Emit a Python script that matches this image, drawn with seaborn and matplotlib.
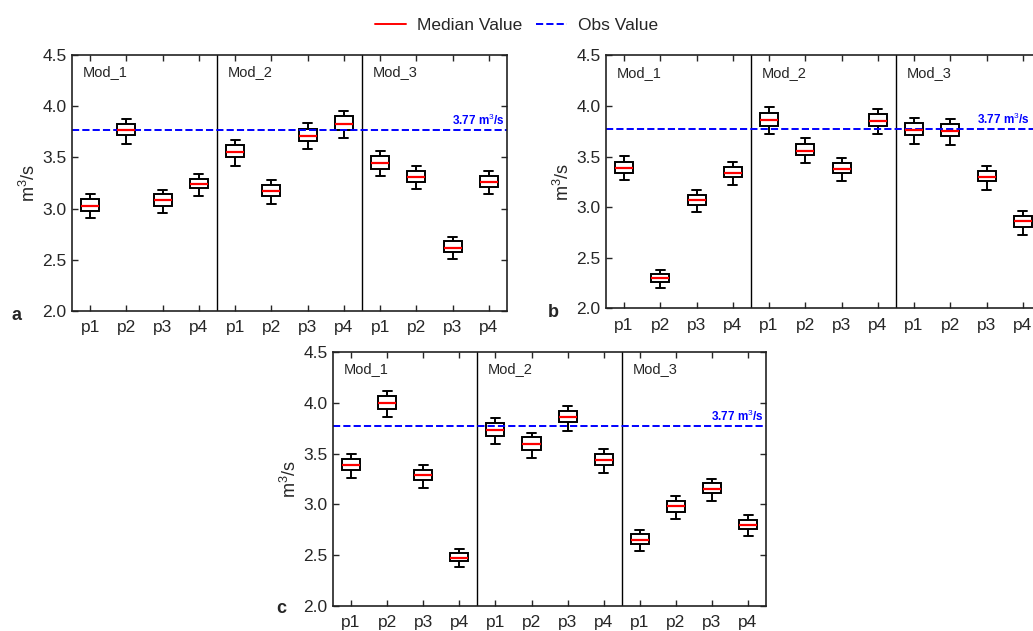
import numpy as np
import pandas as pd
import matplotlib
matplotlib.use("Agg")
import matplotlib.pyplot as plt
import seaborn as sns
from matplotlib.lines import Line2D

# ---------------- data ----------------
models = ["Mod_1", "Mod_2", "Mod_3"]
params = ["p1", "p2", "p3", "p4"]
obs_value = 3.77
obs_label = "3.77 m$^3$/s"
yticks = [2.0, 2.5, 3.0, 3.5, 4.0, 4.5]

# five-number summaries (whisker low, Q1, median, Q3, whisker high)
# order: Mod_1 p1..p4, Mod_2 p1..p4, Mod_3 p1..p4
panel_a = [
    (2.91, 2.98, 3.03, 3.09, 3.14),
    (3.63, 3.72, 3.77, 3.83, 3.88),
    (2.96, 3.03, 3.08, 3.14, 3.18),
    (3.12, 3.20, 3.24, 3.29, 3.34),
    (3.42, 3.50, 3.55, 3.62, 3.67),
    (3.05, 3.12, 3.17, 3.23, 3.28),
    (3.58, 3.66, 3.71, 3.78, 3.84),
    (3.69, 3.77, 3.83, 3.90, 3.95),
    (3.32, 3.39, 3.45, 3.51, 3.56),
    (3.19, 3.26, 3.31, 3.37, 3.42),
    (2.51, 2.58, 2.62, 2.68, 2.72),
    (3.14, 3.21, 3.26, 3.32, 3.37),
]
panel_b = [
    (3.27, 3.34, 3.39, 3.45, 3.51),
    (2.20, 2.26, 2.30, 2.34, 2.38),
    (2.95, 3.02, 3.07, 3.12, 3.17),
    (3.22, 3.30, 3.34, 3.40, 3.45),
    (3.72, 3.80, 3.86, 3.93, 3.99),
    (3.44, 3.52, 3.56, 3.63, 3.68),
    (3.26, 3.34, 3.38, 3.44, 3.49),
    (3.72, 3.80, 3.85, 3.92, 3.97),
    (3.63, 3.71, 3.76, 3.83, 3.88),
    (3.62, 3.70, 3.75, 3.82, 3.87),
    (3.17, 3.26, 3.30, 3.36, 3.41),
    (2.73, 2.81, 2.86, 2.91, 2.96),
]
panel_c = [
    (3.26, 3.34, 3.39, 3.45, 3.50),
    (3.86, 3.94, 4.00, 4.07, 4.12),
    (3.16, 3.24, 3.29, 3.34, 3.39),
    (2.38, 2.44, 2.47, 2.52, 2.56),
    (3.59, 3.67, 3.73, 3.80, 3.85),
    (3.46, 3.54, 3.59, 3.66, 3.70),
    (3.72, 3.81, 3.86, 3.92, 3.97),
    (3.31, 3.39, 3.44, 3.50, 3.55),
    (2.54, 2.61, 2.65, 2.71, 2.75),
    (2.86, 2.93, 2.98, 3.03, 3.08),
    (3.03, 3.11, 3.15, 3.21, 3.25),
    (2.69, 2.76, 2.80, 2.85, 2.90),
]
panel_letters = ["a", "b", "c"]

# ---------------- style ----------------
sns.set_style("ticks")
plt.rcParams["font.family"] = ["Liberation Sans", "DejaVu Sans"]
plt.rcParams["mathtext.fontset"] = "custom"
plt.rcParams["mathtext.rm"] = "Liberation Sans"
plt.rcParams["mathtext.bf"] = "Liberation Sans:bold"

fig = plt.figure(figsize=(10.33, 6.31), dpi=100)

# axes rectangles [left, bottom, width, height] (figure fraction)
rects = [
    [0.0697, 0.5071, 0.4211, 0.4057],
    [0.5866, 0.5111, 0.4211, 0.4010],
    [0.3224, 0.0396, 0.4192, 0.4025],
]
letter_pos = [(0.0116, 0.4929), (0.5305, 0.4976), (0.2672, 0.0285)]
obs_label_x = [11.45, 11.2, 11.45]

keys = [f"{m}|{p}" for m in models for p in params]


def make_frame(summary):
    rows = []
    for k, five in zip(keys, summary):
        for v in five:
            rows.append({"key": k, "value": v})
    return pd.DataFrame(rows)


for summary, rect, letter, lpos, ox in zip([panel_a, panel_b, panel_c], rects,
                                           panel_letters, letter_pos,
                                           obs_label_x):
    ax = fig.add_axes(rect)
    df = make_frame(summary)
    sns.boxplot(data=df, x="key", y="value", order=keys, width=0.5,
                color="white", linecolor="black", linewidth=1.4,
                whis=(0, 100), showfliers=False,
                medianprops=dict(color="red", linewidth=1.6), ax=ax)
    ax.set_xlim(-0.5, 11.5)
    ax.set_ylim(2.0, 4.5)
    ax.set_yticks(yticks)
    ax.set_yticklabels([f"{t:.1f}" for t in yticks])
    ax.set_xticks(range(len(keys)))
    ax.set_xticklabels(params * len(models))
    ax.set_xlabel("")
    ax.set_ylabel("m$^3$/s", fontsize=13, labelpad=2)
    ax.tick_params(direction="in", top=True, right=True, length=4,
                   width=1, labelsize=12.5, pad=4)
    ax.tick_params(axis="x", pad=6.5)
    for s in ax.spines.values():
        s.set_visible(True)
        s.set_linewidth(1.2)
        s.set_color("#222222")
    # model separators
    for xs in [3.5, 7.5]:
        ax.axvline(xs, color="black", linewidth=1.0)
    # model labels
    for i, m in enumerate(models):
        ax.text(4 * i - 0.2, 4.33, m, fontsize=10.5, ha="left", va="center")
    # observed value
    ax.axhline(obs_value, color="blue", linestyle="--", linewidth=1.4)
    ax.text(ox, obs_value + 0.02, obs_label, color="blue",
            fontsize=8.5, fontweight="bold", ha="right", va="bottom")
    fig.text(lpos[0], lpos[1], letter, fontsize=13, fontweight="bold",
             ha="left", va="baseline")

handles = [
    Line2D([], [], color="red", linewidth=1.4),
    Line2D([], [], color="blue", linewidth=1.4, linestyle="--"),
]
fig.legend(handles, ["Median Value", "Obs Value"], loc="center",
           bbox_to_anchor=(0.5, 1 - 25 / 631), ncol=2, frameon=False,
           fontsize=12.5, handlelength=1.8, handletextpad=0.6,
           columnspacing=0.8)

fig.savefig("out.png", dpi=100)
